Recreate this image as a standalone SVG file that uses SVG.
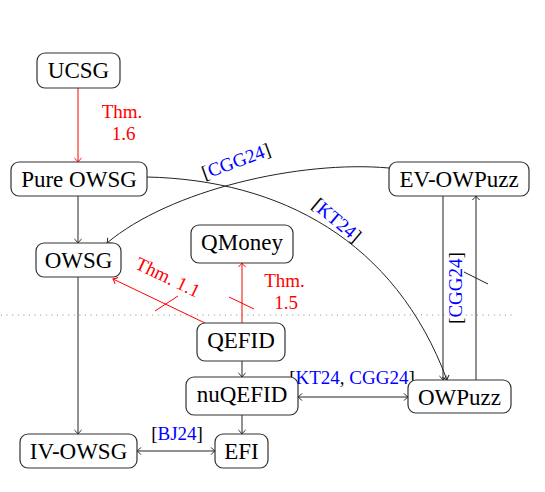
<svg xmlns="http://www.w3.org/2000/svg" width="545" height="492" viewBox="0 0 545 492">
<style>
text{font-family:'Liberation Serif','DejaVu Serif','Times New Roman',Times,serif}
.box{fill:#fff;stroke:#333;stroke-width:1.2}
.nt{font-size:23px;fill:#000;text-anchor:middle}
.lb{font-size:19px;text-anchor:middle}
.red{fill:#ff0000}
.blue{fill:#0000ff}
.blk{fill:#000}
.e{fill:none;stroke:#222;stroke-width:1}
.er{fill:none;stroke:#ff0000;stroke-width:1}
</style>
<defs>
<marker id="ah" markerUnits="userSpaceOnUse" markerWidth="12" markerHeight="12" viewBox="-6 -6 12 12" refX="0" refY="0" orient="auto-start-reverse">
<path d="M-4,-3.6 Q-1.2,-0.6 0,0 Q-1.2,0.6 -4,3.6" fill="none" stroke="#222" stroke-width="1"/>
</marker>
<marker id="ahr" markerUnits="userSpaceOnUse" markerWidth="12" markerHeight="12" viewBox="-6 -6 12 12" refX="0" refY="0" orient="auto-start-reverse">
<path d="M-4,-3.6 Q-1.2,-0.6 0,0 Q-1.2,0.6 -4,3.6" fill="none" stroke="#ff0000" stroke-width="1"/>
</marker>
</defs>
<rect width="545" height="492" fill="#fff"/>
<line x1="1" y1="315" x2="513" y2="315" stroke="#888" stroke-width="1" stroke-dasharray="1 4.6"/>
<g id="connectors">
<line class="er" x1="78" y1="88" x2="78" y2="162" marker-end="url(#ahr)"/>
<line class="e" x1="78" y1="196" x2="78" y2="243" marker-end="url(#ah)"/>
<line class="e" x1="78" y1="277" x2="78" y2="434" marker-end="url(#ah)"/>
<line class="e" x1="242" y1="361" x2="242" y2="377" marker-end="url(#ah)"/>
<line class="e" x1="242" y1="415" x2="242" y2="434" marker-end="url(#ah)"/>
<line class="e" x1="137" y1="451" x2="215" y2="451" marker-start="url(#ah)" marker-end="url(#ah)"/>
<line class="e" x1="298" y1="397" x2="408" y2="397" marker-start="url(#ah)" marker-end="url(#ah)"/>
<line class="e" x1="443" y1="196" x2="443" y2="380" marker-end="url(#ah)"/>
<line class="e" x1="476" y1="380" x2="476" y2="196" marker-end="url(#ah)"/>
<line class="e" x1="464" y1="272" x2="488" y2="284"/>
<line class="er" x1="242" y1="323" x2="242" y2="263" marker-end="url(#ahr)"/>
<line class="er" x1="229" y1="297" x2="254" y2="309"/>
<line class="er" x1="205" y1="323" x2="113" y2="279" marker-end="url(#ahr)"/>
<line class="er" x1="155" y1="311" x2="178" y2="296"/>
<path class="e" d="M389,168 C300,160 170,190 107,243" marker-end="url(#ah)"/>
<path class="e" d="M147,177 C280,180 395,240 447,380" marker-end="url(#ah)"/>
<text class="lb red" x="122" y="118">Thm.</text>
<text class="lb red" x="123.5" y="140">1.6</text>
<text class="lb red" x="284.5" y="287">Thm.</text>
<text class="lb red" x="286" y="309">1.5</text>
<text class="lb red" transform="translate(168,277) rotate(25.6)" y="6.5">Thm. 1.1</text>
<text class="lb blk" transform="translate(236,161) rotate(-20)" y="6.5">[<tspan class="blue">CGG24</tspan>]</text>
<text class="lb blk" transform="translate(337,220) rotate(40)" y="6.5">[<tspan class="blue">KT24</tspan>]</text>
<text class="lb blk" transform="translate(455,288) rotate(-90)" y="6.5">[<tspan class="blue">CGG24</tspan>]</text>
<text class="lb blk" x="352" y="384">[<tspan class="blue">KT24</tspan>, <tspan class="blue">CGG24</tspan>]</text>
<text class="lb blk" x="177" y="440">[<tspan class="blue">BJ24</tspan>]</text>
</g>
<g id="UCSG"><rect class="box" x="37" y="53" width="83" height="35" rx="8"/><text class="nt" x="78.5" y="77.5">UCSG</text></g>
<g id="PureOWSG"><rect class="box" x="11" y="162" width="136" height="34" rx="8"/><text class="nt" x="79" y="186.5">Pure OWSG</text></g>
<g id="OWSG"><rect class="box" x="36" y="243" width="85" height="34" rx="8"/><text class="nt" x="78.5" y="267.5">OWSG</text></g>
<g id="QMoney"><rect class="box" x="191" y="225" width="102" height="38" rx="8"/><text class="nt" x="242" y="249.5">QMoney</text></g>
<g id="QEFID"><rect class="box" x="197" y="323" width="88" height="38" rx="8"/><text class="nt" x="241" y="347.5">QEFID</text></g>
<g id="nuQEFID"><rect class="box" x="186" y="377" width="112" height="38" rx="8"/><text class="nt" x="242" y="401.5">nuQEFID</text></g>
<g id="EFI"><rect class="box" x="215" y="434" width="53" height="34" rx="8"/><text class="nt" x="241.5" y="458.5">EFI</text></g>
<g id="IVOWSG"><rect class="box" x="20" y="434" width="117" height="34" rx="8"/><text class="nt" x="78.5" y="458.5">IV-OWSG</text></g>
<g id="OWPuzz"><rect class="box" x="408" y="380" width="103" height="33" rx="8"/><text class="nt" x="459.5" y="404.5">OWPuzz</text></g>
<g id="EVOWPuzz"><rect class="box" x="389" y="162" width="140" height="34" rx="8"/><text class="nt" x="459" y="186.5">EV-OWPuzz</text></g>
</svg>
